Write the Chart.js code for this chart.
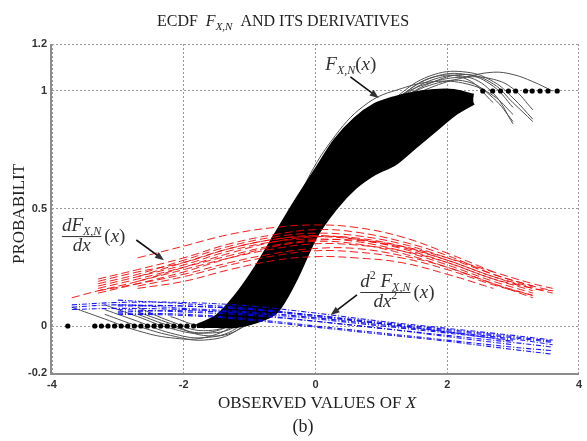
<!DOCTYPE html>
<html>
<head>
<meta charset="utf-8">
<title>ECDF and its derivatives</title>
<script src="https://cdn.jsdelivr.net/npm/chart.js@4.4.1/dist/chart.umd.min.js"></script>
<style>
body{margin:0;background:#fff}
canvas{display:block}
</style>
</head>
<body>
<canvas id="data_chart" width="587" height="441"></canvas>
<script>
// axis ticks
const xTicks=[-4,-2,0,2,4]
const yTicks=[-0.2,0,0.5,1,1.2]

// black ECDF band (upper / lower edge of the cloud of points)
const bandX=[-1.8,-1.5,-1.2,-0.9,-0.6,-0.3,0,0.3,0.6,0.9,1.2,1.5,1.8,2.1,2.4]
const bandUpper=[0,0.04,0.13,0.25,0.39,0.53,0.66,0.79,0.88,0.94,0.97,0.99,1.0,1.0,0.98]
const bandLower=[0,0,0,0.02,0.06,0.2,0.38,0.5,0.59,0.65,0.69,0.76,0.83,0.9,0.95]

// ECDF points lying on 0 (left tail) and on 1 (right tail)
const dotsZeroX=[-3.76,-3.35,-3.25,-3.15,-3.05,-2.95,-2.85,-2.75,-2.65,-2.55,-2.45,-2.35,-2.25,-2.15,-2.05,-1.95,-1.85]
const dotsOneX=[2.54,2.69,2.81,2.93,3.04,3.19,3.29,3.41,3.53,3.67]

// fitted ECDF curves (thin gray)
const grayX=[-3.7,-3.2,-2.7,-2.2,-1.7,-1.2,-0.7,-0.2,0.3,0.8,1.3,1.8,2.3,2.7,3.0,3.3,3.6]
const grayCurves=[
  [0.08,0.03,-0.02,-0.05,-0.05,0.01,0.15,0.40,0.64,0.84,0.97,1.05,1.06,0.99,0.86,null,null],
  [null,0.09,0.04,-0.01,-0.03,0.02,0.16,0.41,0.65,0.85,0.98,1.06,1.07,1.02,0.93,null,null],
  [null,0.07,0.02,-0.03,-0.05,-0.01,0.13,0.38,0.63,0.84,0.99,1.07,1.08,1.04,0.97,0.88,null],
  [null,null,0.08,0.02,-0.02,0.02,0.17,0.42,0.66,0.86,0.98,1.04,1.06,1.05,1.01,0.92,null],
  [null,0.05,0.0,-0.04,-0.06,-0.02,0.12,0.37,0.62,0.82,0.95,1.02,1.06,1.08,1.07,1.04,1.0],
  [null,null,0.05,0.0,-0.03,0.0,0.14,0.39,0.63,0.83,0.96,1.03,1.04,0.97,0.87,null,null],
  [null,null,null,0.04,0.0,0.03,0.18,0.43,0.67,0.86,0.98,1.06,1.05,0.95,null,null,null],
  [null,null,0.06,0.01,-0.04,-0.02,0.10,0.36,0.61,0.82,0.96,1.04,1.07,1.03,0.95,0.87,null],
  [null,null,null,null,-0.01,0.06,0.24,0.58,0.81,0.95,1.01,1.04,1.03,0.98,0.90,null,null]
]

// first derivative estimates (red dashed)
const redX=[-3.7,-3.3,-2.7,-2,-1.3,-0.6,0,0.6,1.3,2,2.7,3.3,3.6]
const redCurves=[
  [null,null,0.29,0.34,0.39,0.42,0.43,0.42,0.38,0.31,0.23,null,null],
  [null,0.20,0.24,0.29,0.35,0.39,0.41,0.40,0.36,0.30,0.22,0.17,null],
  [null,0.18,0.22,0.28,0.34,0.38,0.395,0.385,0.35,0.29,0.22,0.17,0.15],
  [0.12,0.15,0.19,0.25,0.31,0.36,0.38,0.375,0.34,0.28,0.21,0.16,0.15],
  [null,0.17,0.21,0.26,0.32,0.36,0.37,0.36,0.32,0.26,0.19,0.14,null],
  [null,0.16,0.20,0.25,0.30,0.345,0.365,0.365,0.335,0.28,0.21,0.165,null],
  [null,0.14,0.18,0.23,0.29,0.34,0.36,0.35,0.31,0.25,0.18,0.13,null],
  [null,null,0.19,0.24,0.29,0.33,0.35,0.345,0.32,0.27,0.20,0.16,0.14],
  [null,0.15,0.18,0.22,0.27,0.31,0.33,0.33,0.30,0.25,0.18,0.12,null],
  [null,null,0.17,0.21,0.26,0.30,0.32,0.315,0.29,0.24,0.175,0.13,null],
  [null,null,0.16,0.19,0.24,0.28,0.295,0.29,0.27,0.22,0.16,null,null],
  [null,0.19,0.23,0.27,0.33,0.37,0.385,0.37,0.33,0.27,0.20,0.15,null],
  [null,null,0.21,0.27,0.33,0.37,0.38,0.37,0.34,0.29,0.23,0.18,0.16]
]

// second derivative estimates (blue dash-dot)
const blueX=[-3.7,-3,-2,-1,0,1,2,3,3.6]
const blueCurves=[
  [0.09,0.10,0.10,0.085,0.055,0.02,-0.01,-0.04,-0.06],
  [null,0.085,0.085,0.07,0.04,0.01,-0.02,-0.05,-0.07],
  [0.07,0.075,0.07,0.055,0.03,0.0,-0.03,-0.06,null],
  [null,0.06,0.065,0.05,0.02,-0.01,-0.04,-0.07,-0.09],
  [null,0.11,0.095,0.075,0.045,0.01,-0.025,-0.065,null],
  [null,0.05,0.045,0.025,-0.005,-0.035,-0.065,-0.10,-0.12],
  [null,0.09,0.085,0.07,0.045,0.015,-0.015,-0.045,-0.065],
  [null,0.07,0.06,0.045,0.02,-0.01,-0.045,-0.08,null],
  [0.08,0.09,0.075,0.06,0.035,0.005,-0.025,-0.055,-0.08],
  [null,0.055,0.05,0.03,0.0,-0.03,-0.06,-0.09,-0.105]
]

const serif='"Liberation Serif","Times New Roman",serif'

function toXY(xs,ys){
  return xs.map((x,i)=>({x:x,y:ys[i]})).filter(p=>p.y!==null && p.y!==undefined)
}

// order: red/blue on top, black cloud in the middle, gray fits underneath
const datasets=[]
redCurves.forEach(c=>{
  datasets.push({data:toXY(redX,c),borderColor:'rgba(255,0,0,0.9)',borderWidth:1,borderDash:[8,4],
    pointRadius:0,tension:0.4,fill:false,order:0})
})
blueCurves.forEach(c=>{
  datasets.push({data:toXY(blueX,c),borderColor:'rgba(0,0,255,0.9)',borderWidth:1.1,borderDash:[5,2,1,2],
    pointRadius:0,tension:0.4,fill:false,order:0})
})
datasets.push({data:dotsZeroX.map(x=>({x:x,y:0})),showLine:false,pointRadius:2.6,
  pointBackgroundColor:'#000',pointBorderWidth:0,order:2})
datasets.push({data:dotsOneX.map(x=>({x:x,y:1})),showLine:false,pointRadius:2.6,
  pointBackgroundColor:'#000',pointBorderWidth:0,order:2})
datasets.push({data:toXY(bandX,bandUpper),borderColor:'#000',borderWidth:4,backgroundColor:'#000',
  pointRadius:0,tension:0.3,fill:'+1',order:2})
datasets.push({data:toXY(bandX,bandLower),borderColor:'#000',borderWidth:4,
  pointRadius:0,tension:0.3,fill:false,order:2})
grayCurves.forEach(c=>{
  datasets.push({data:toXY(grayX,c),borderColor:'#505050',borderWidth:1,
    pointRadius:0,tension:0.4,fill:false,order:3})
})

function runs(ctx,list,x,y){
  list.forEach(r=>{
    ctx.font=(r.it?'italic ':'')+r.s+'px '+serif
    ctx.fillText(r.t,x,y+(r.dy||0))
    x+=ctx.measureText(r.t).width
  })
  return x
}
function runsWidth(ctx,list){
  let w=0
  list.forEach(r=>{
    ctx.font=(r.it?'italic ':'')+r.s+'px '+serif
    w+=ctx.measureText(r.t).width
  })
  return w
}
function arrow(ctx,x1,y1,x2,y2){
  const a=Math.atan2(y2-y1,x2-x1)
  ctx.beginPath(); ctx.moveTo(x1,y1); ctx.lineTo(x2-6*Math.cos(a),y2-6*Math.sin(a)); ctx.stroke()
  ctx.beginPath()
  ctx.moveTo(x2,y2)
  ctx.lineTo(x2-9*Math.cos(a)+3.5*Math.sin(a),y2-9*Math.sin(a)-3.5*Math.cos(a))
  ctx.lineTo(x2-9*Math.cos(a)-3.5*Math.sin(a),y2-9*Math.sin(a)+3.5*Math.cos(a))
  ctx.closePath(); ctx.fill()
}
function fraction(ctx,num,den,left,base){
  const wn=runsWidth(ctx,num)
  runs(ctx,num,left,base)
  const ly=base+5
  ctx.fillRect(left,ly,wn,1)
  const wd=runsWidth(ctx,den)
  runs(ctx,den,left+(wn-wd)/2,ly+15)
  runs(ctx,[{t:'(',s:19},{t:'x',s:19,it:1},{t:')',s:19}],left+wn+3,ly+6)
}

const decor={
  id:'decor',
  afterDraw(chart){
    const {ctx,chartArea:a,scales:{x,y}}=chart
    ctx.save()
    ctx.setLineDash([])
    ctx.strokeStyle='#8c8c8c'; ctx.lineWidth=2
    ctx.beginPath(); ctx.moveTo(a.left-1,a.top); ctx.lineTo(a.left-1,a.bottom+1); ctx.lineTo(a.right,a.bottom+1); ctx.stroke()

    ctx.fillStyle='#222'; ctx.strokeStyle='#222'; ctx.textAlign='left'; ctx.textBaseline='alphabetic'
    const title=[{t:'ECDF  ',s:16},{t:'F',s:16,it:1},{t:'X,N',s:11,it:1,dy:4},{t:'  AND ITS DERIVATIVES',s:16}]
    runs(ctx,title,283-runsWidth(ctx,title)/2,26)
    const xt=[{t:'OBSERVED VALUES OF ',s:17},{t:'X',s:17,it:1}]
    runs(ctx,xt,317-runsWidth(ctx,xt)/2,408)
    ctx.font='18px '+serif; ctx.textAlign='center'
    ctx.fillText('(b)',303,432)
    ctx.save(); ctx.translate(24,214); ctx.rotate(-Math.PI/2)
    ctx.font='17px '+serif; ctx.fillText('PROBABILIT',0,0)
    ctx.restore()
    ctx.textAlign='left'

    // curve labels
    ctx.fillStyle='#333'; ctx.strokeStyle='#111'; ctx.lineWidth=1.6
    runs(ctx,[{t:'F',s:19,it:1},{t:'X,N',s:12,it:1,dy:4},{t:'(',s:19},{t:'x',s:19,it:1},{t:')',s:19}],
      x.getPixelForValue(0.15),y.getPixelForValue(1.09))
    arrow(ctx,x.getPixelForValue(0.53),y.getPixelForValue(1.06),x.getPixelForValue(0.96),y.getPixelForValue(0.97))

    fraction(ctx,[{t:'dF',s:19,it:1},{t:'X,N',s:12,it:1,dy:4}],[{t:'dx',s:19,it:1}],
      x.getPixelForValue(-3.85),y.getPixelForValue(0.404))
    arrow(ctx,x.getPixelForValue(-2.72),y.getPixelForValue(0.366),x.getPixelForValue(-2.3),y.getPixelForValue(0.28))

    fraction(ctx,[{t:'d',s:19,it:1},{t:'2',s:12,dy:-8},{t:' F',s:19,it:1},{t:'X,N',s:12,it:1,dy:4}],
      [{t:'dx',s:19,it:1},{t:'2',s:12,dy:-8}],
      x.getPixelForValue(0.68),y.getPixelForValue(0.166))
    arrow(ctx,x.getPixelForValue(0.63),y.getPixelForValue(0.132),x.getPixelForValue(0.23),y.getPixelForValue(0.047))
    ctx.restore()
  }
}

const tickFont={family:'"Liberation Sans",Arial,sans-serif',size:11,weight:'bold'}

new Chart('data_chart',{
  type:'line',
  data:{datasets:datasets},
  options:{
    responsive:false,
    animation:false,
    devicePixelRatio:1,
    layout:{padding:{left:0,top:44,right:3,bottom:0}},
    plugins:{legend:{display:false},tooltip:{enabled:false},title:{display:false}},
    scales:{
      x:{
        type:'linear',min:-4,max:4,
        afterBuildTicks:s=>{s.ticks=xTicks.map(v=>({value:v}))},
        afterFit:s=>{s.height=68},
        ticks:{font:tickFont,color:'#333',padding:5,maxRotation:0,callback:v=>String(v)},
        grid:{color:'#9a9a9a',lineWidth:1,drawTicks:false},
        border:{display:false,dash:[2,2]}
      },
      y:{
        type:'linear',min:-0.2,max:1.2,
        afterBuildTicks:s=>{s.ticks=yTicks.map(v=>({value:v}))},
        afterFit:s=>{s.width=52},
        ticks:{font:tickFont,color:'#333',padding:5,callback:v=>String(v)},
        grid:{color:'#9a9a9a',lineWidth:1,drawTicks:false},
        border:{display:false,dash:[2,2]}
      }
    }
  },
  plugins:[decor]
})
</script>
</body>
</html>
